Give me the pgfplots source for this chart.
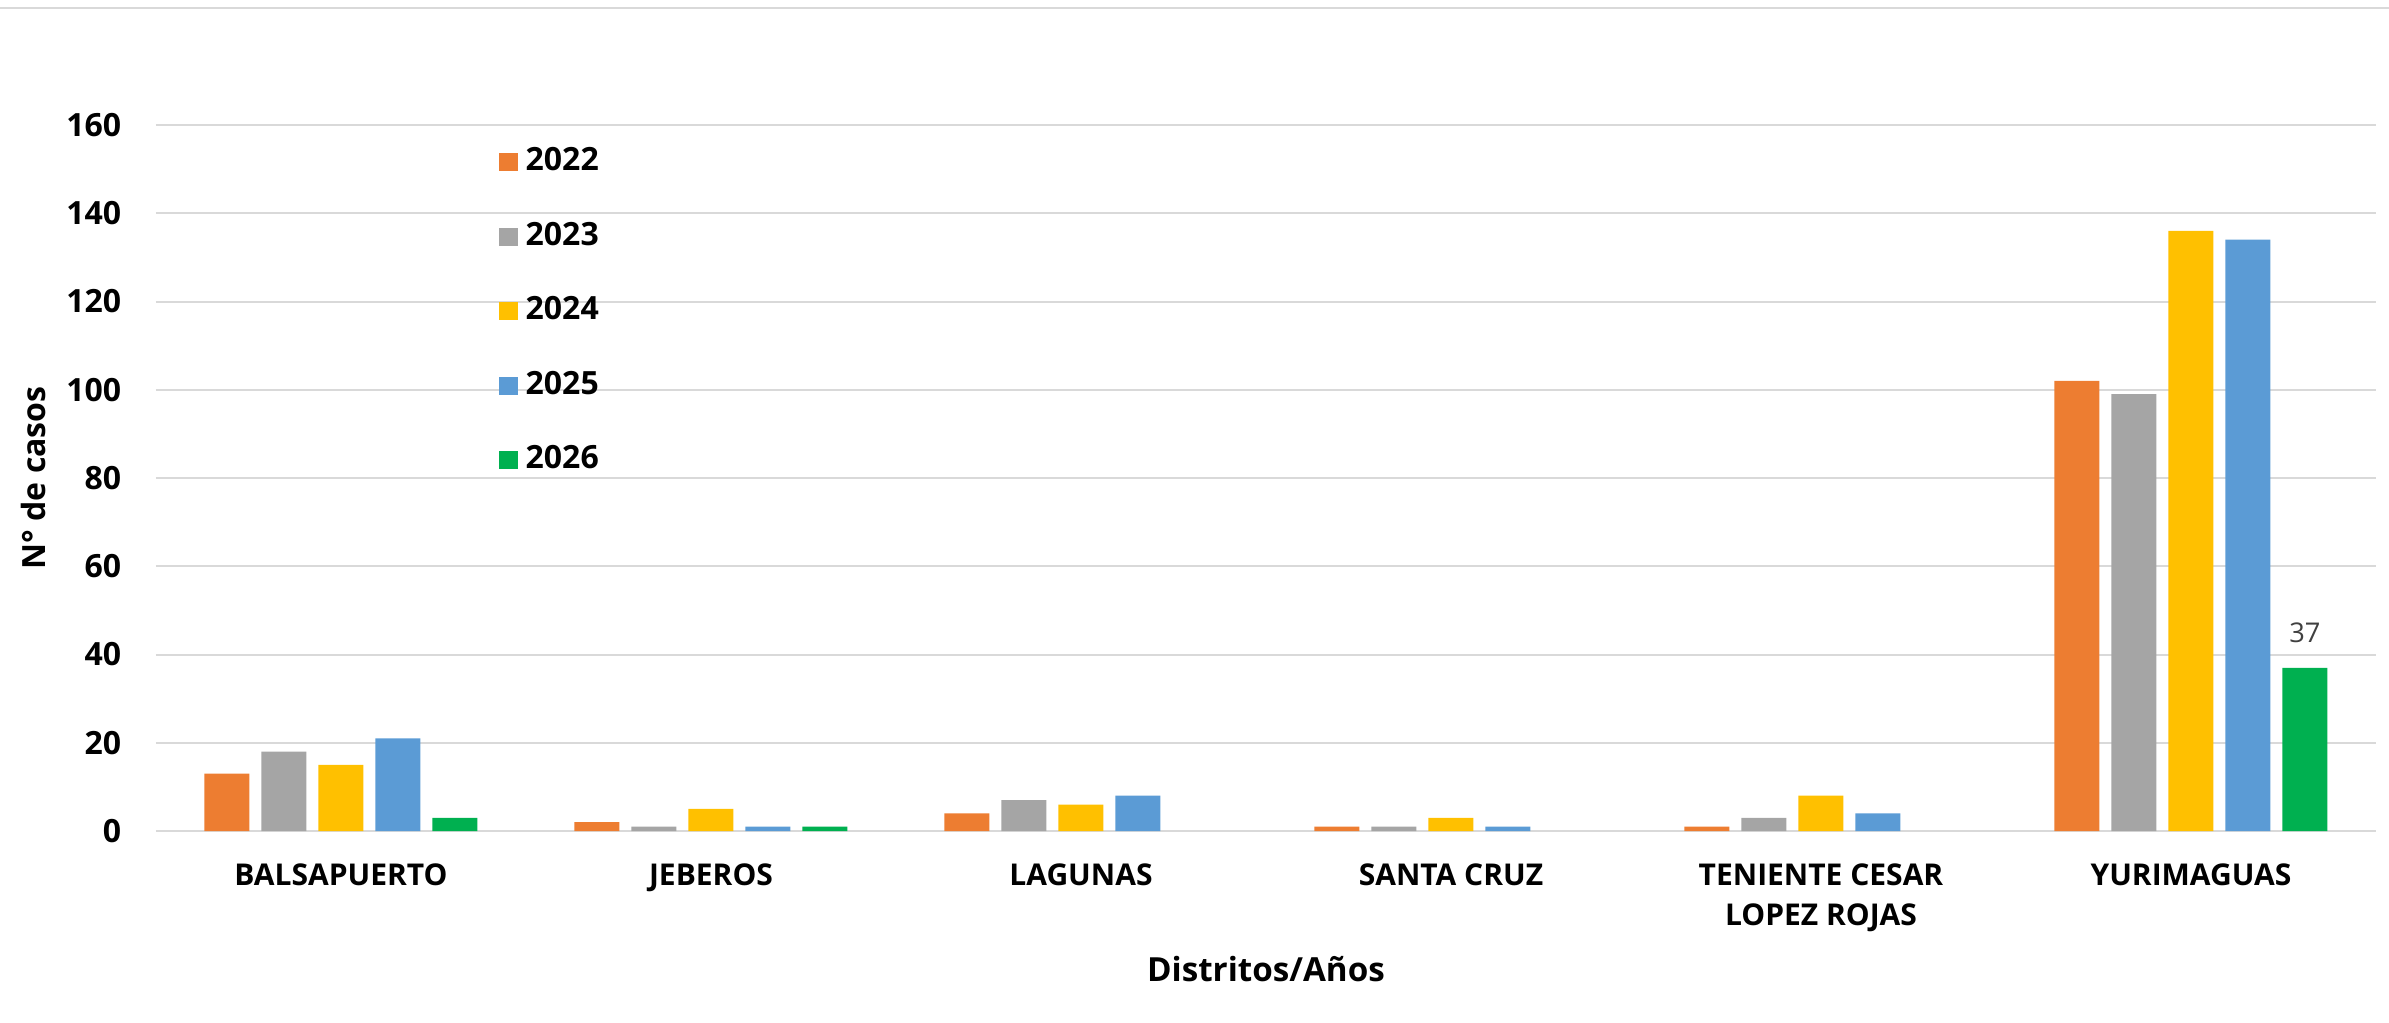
\documentclass[border=0pt]{standalone}
\usepackage{fontspec}
\setmainfont{Open Sans}
\usepackage{pgfplots}
\pgfplotsset{compat=1.18}

\definecolor{c22}{HTML}{ED7D31}
\definecolor{c23}{HTML}{A5A5A5}
\definecolor{c24}{HTML}{FFC000}
\definecolor{c25}{HTML}{5B9BD5}
\definecolor{c26}{HTML}{00B050}
\definecolor{gridc}{HTML}{D9D9D9}
\definecolor{lblc}{HTML}{404040}

\newcommand{\catfont}{\bfseries\fontsize{7.5}{10}\selectfont}
\newcommand{\lblfont}{\bfseries\fontsize{8}{10}\selectfont}

\begin{document}
\begin{tikzpicture}[x=1pt,y=1pt]
\useasboundingbox (0,0) rectangle (597.25,255.5);
\draw[line width=0.6pt, gridc] (0,253.5) -- (597.25,253.5);
\begin{axis}[
    at={(39pt,47.75pt)}, anchor=south west,
    width=555pt, height=176.5pt, scale only axis,
    xmin=-0.5, xmax=5.5, ymin=0, ymax=160,
    ytick={0,20,...,160},
    xtick={0,...,5},
    xticklabels={BALSAPUERTO, JEBEROS, LAGUNAS, SANTA CRUZ, {TENIENTE CESAR\\LOPEZ ROJAS}, YURIMAGUAS},
    /pgf/number format/assume math mode=true,
    ybar=3pt, bar width=11.25pt,
    axis line style={draw=none},
    major tick length=0pt, tick style={draw=none},
    ymajorgrids, grid style={gridc, line width=0.5pt},
    yticklabel style={anchor=east, inner sep=0pt, xshift=-8.5pt, font=\lblfont},
    xticklabel style={anchor=north, inner sep=0pt, yshift=-8pt, align=center, font=\catfont},
    xlabel={Distritos/Años},
    ylabel={N° de casos},
    every axis x label/.style={at={(axis description cs:0.5,0)}, anchor=north, yshift=-31pt, inner sep=0pt,
        font=\bfseries\fontsize{8.3}{10}\selectfont},
    every axis y label/.style={at={(axis description cs:-0.0554,0.5)}, rotate=90, anchor=center, inner sep=0pt, font=\lblfont},
    legend style={at={(rel axis cs:0.154,0.969)}, anchor=north west, draw=none, fill=none,
        inner sep=0pt, row sep=11.3pt, column sep=2pt, font=\lblfont,
        nodes={inner sep=0pt}},
    legend cell align=left,
    legend image code/.code={\fill[#1] (0pt,-2.25pt) rectangle (4.75pt,2.25pt);},
]
\addplot[fill=c22, draw=none] coordinates {(0,13) (1,2) (2,4) (3,1) (4,1) (5,102)};
\addplot[fill=c23, draw=none] coordinates {(0,18) (1,1) (2,7) (3,1) (4,3) (5,99)};
\addplot[fill=c24, draw=none] coordinates {(0,15) (1,5) (2,6) (3,3) (4,8) (5,136)};
\addplot[fill=c25, draw=none] coordinates {(0,21) (1,1) (2,8) (3,1) (4,4) (5,134)};
\addplot[fill=c26, draw=none, nodes near coords, point meta=explicit symbolic,
    every node near coord/.append style={anchor=south, inner sep=0pt, yshift=6pt,
        font=\fontsize{6.8}{8}\selectfont, text=lblc}]
    coordinates {(0,3) [] (1,1) [] (5,37) [37]};
\legend{2022,2023,2024,2025,2026}
\end{axis}
\end{tikzpicture}
\end{document}
